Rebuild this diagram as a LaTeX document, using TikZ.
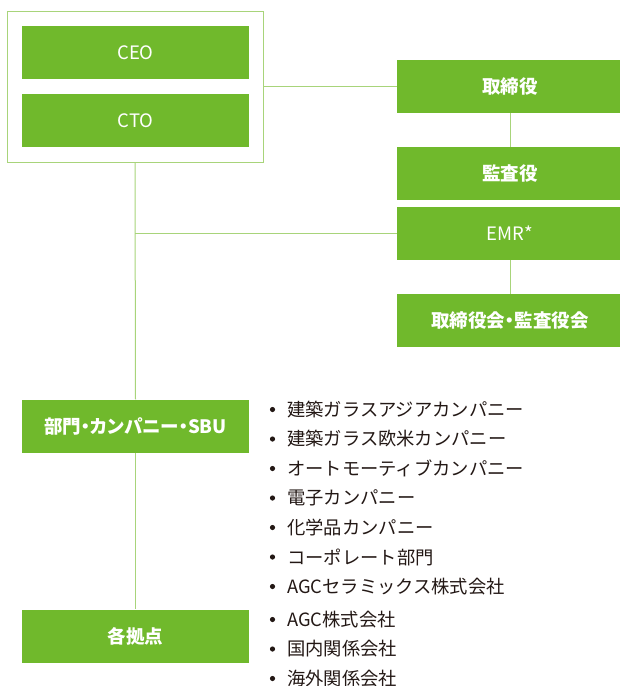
\documentclass[tikz,border=0pt]{standalone}
\usepackage{fontspec}
\setmainfont{Noto Sans CJK JP}
\newfontfamily\boxfont[RawFeature=+palt]{Noto Sans CJK JP}
\usetikzlibrary{positioning}

\definecolor{boxgreen}{RGB}{112,185,44}
\definecolor{linegreen}{RGB}{168,212,122}
\definecolor{listtext}{RGB}{35,24,21}

\begin{document}
\begin{tikzpicture}
    [x=1pt, y=-1pt,
     post/.style={fill=boxgreen, text=white, minimum width=227pt, minimum height=53pt,
       inner sep=0pt, font=\boxfont\fontsize{18.5}{20}\selectfont},
     jpost/.style={post, font=\boxfont\bfseries\fontsize{18.5}{20}\selectfont},
     frame/.style={draw=linegreen, line width=1pt, minimum width=256pt, minimum height=151pt},
     link/.style={draw=linegreen, line width=1pt},
     item/.style={anchor=west, inner sep=0pt, text=listtext, font=\fontsize{18.3}{20}\selectfont}]
    \useasboundingbox (0,0) rectangle (620,686);
    % top management
    \node[frame] (top) at (135,86.5) {};
    \node[post] (ceo) at (135.5,52.5) {CEO};
    \node[post] (cto) at (135.5,120.5) {CTO};
    % board side
    \node[jpost, minimum width=226pt] (board) at (510,86.5) {取締役};
    \node[jpost, minimum width=226pt] (audit) at (510,173.5) {監査役};
    \node[post, minimum width=226pt] (emr) at (510,233.5) {EMR*};
    \node[jpost, minimum width=226pt] (meet) at (510,320.5) {取締役会・監査役会};
    % operations
    \node[jpost] (dept) at (135.5,426) {部門・カンパニー・SBU};
    \node[jpost] (site) at (135.5,636) {各拠点};
    \coordinate (jn) at (top.south |- emr.west);

    \draw[link] (top.east) -- (board.west);
    \draw[link] (board.south) -- (audit.north);
    \draw[link] (emr.south) -- (meet.north);
    \draw[link] (top.south) -- (dept.north);
    \draw[link] (dept.south) -- (site.north);
    \draw[link] (jn) -- (emr.west);

    % lists
    \foreach \txt [count=\i] in {建築ガラスアジアカンパニー, 建築ガラス欧米カンパニー,
        オートモーティブカンパニー, 電子カンパニー, 化学品カンパニー,
        コーポレート部門, AGCセラミックス株式会社} {
      \node[item] (li\i) at (287,{409.5+29.5*(\i-1)}) {\txt};
      \fill[listtext] ([xshift=-14.5pt]li\i.west) circle (2.6pt);
    }
    \foreach \txt [count=\i] in {AGC株式会社, 国内関係会社, 海外関係会社} {
      \node[item] (si\i) at (287,{619.5+29.5*(\i-1)}) {\txt};
      \fill[listtext] ([xshift=-14.5pt]si\i.west) circle (2.6pt);
    }
\end{tikzpicture}
\end{document}
